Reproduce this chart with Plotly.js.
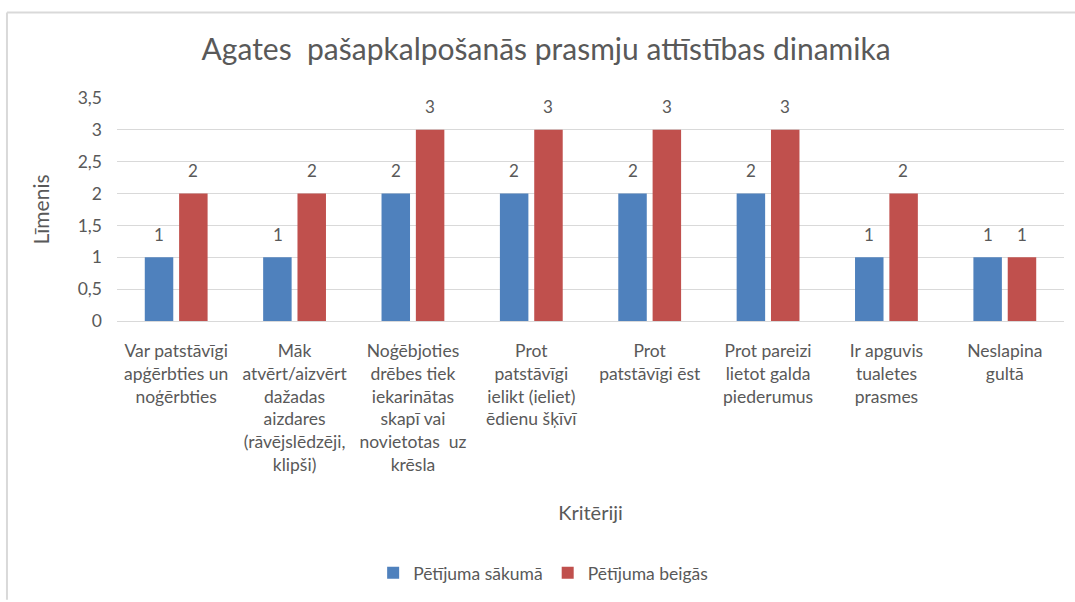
<!DOCTYPE html>
<html>
<head>
<meta charset="utf-8">
<script src="https://cdn.plot.ly/plotly-3.0.1.min.js"></script>
<style>html,body{margin:0;padding:0;background:#fff;}#chart{width:1075px;height:602px;}</style>
</head>
<body>
<div id="chart"></div>
<script>
const categories = [
  "Var patstāvīgi<br>apģērbties un<br>noģērbties",
  "Māk<br>atvērt/aizvērt<br>dažadas<br>aizdares<br>(rāvējslēdzēji,<br>klipši)",
  "Noģēbjoties<br>drēbes tiek<br>iekarinātas<br>skapī vai<br>novietotas  uz<br>krēsla",
  "Prot<br>patstāvīgi<br>ielikt (ieliet)<br>ēdienu šķīvī",
  "Prot<br>patstāvīgi ēst",
  "Prot pareizi<br>lietot galda<br>piederumus",
  "Ir apguvis<br>tualetes<br>prasmes",
  "Neslapina<br>gultā"
];
const seriesNames = ["Pētījuma sākumā", "Pētījuma beigās"];
const startValues = [1, 1, 2, 2, 2, 2, 1, 1];
const endValues   = [2, 2, 3, 3, 3, 3, 2, 1];
const colors = ["#4f81bd", "#c0504d"];
const textColor = "#595959";
const fontFamily = "Lato, 'Open Sans', sans-serif";

const traces = [startValues, endValues].map((vals, i) => ({
  type: "bar",
  name: seriesNames[i],
  x: categories,
  y: vals,
  marker: {color: colors[i]},
  hoverinfo: "none"
}));

const annotations = [];
[startValues, endValues].forEach((vals, i) => {
  vals.forEach((v, j) => {
    annotations.push({
      x: categories[j], y: v, xref: "x", yref: "y",
      text: String(v), showarrow: false,
      xshift: i === 0 ? -17 : 17, yshift: 23,
      yanchor: "middle",
      font: {family: fontFamily, size: 17, color: textColor}
    });
  });
});

const layout = {
  width: 1075, height: 602,
  margin: {l: 117, r: 11, t: 98, b: 277},
  paper_bgcolor: "#fff", plot_bgcolor: "#fff",
  separators: ", ",
  font: {family: fontFamily, color: textColor, size: 17},
  title: {text: "Agates  pašapkalpošanās prasmju attīstības dinamika",
          font: {family: fontFamily, size: 30, color: textColor},
          x: 0.508, xanchor: "center", y: 0.917, yanchor: "middle"},
  barmode: "group",
  bargap: 0.42,
  bargroupgap: 0.17,
  xaxis: {
    type: "category",
    tickfont: {family: fontFamily, size: 17.5, color: textColor},
    ticklabelstandoff: 14,
    ticks: "", showline: true, linecolor: "#d9d9d9", linewidth: 1,
    title: {text: "Kritēriji", font: {family: fontFamily, size: 20, color: textColor}, standoff: 32},
    automargin: false
  },
  yaxis: {
    range: [0, 3.5], dtick: 0.5, tick0: 0,
    gridcolor: "#d9d9d9", gridwidth: 1, zeroline: false,
    showline: false, ticks: "",
    ticklabelstandoff: 14,
    tickfont: {family: fontFamily, size: 17.5, color: textColor},
    title: {text: "Līmenis", font: {family: fontFamily, size: 21, color: textColor}, standoff: 22},
    automargin: false
  },
  legend: {
    orientation: "h", x: 0.45, xanchor: "center", y: -1.13, yanchor: "middle",
    font: {family: fontFamily, size: 17.5, color: textColor}
  },
  annotations: annotations,
  shapes: [
    {type: "line", xref: "paper", yref: "paper", x0: -0.1162, x1: 1.02, y0: 1.383, y1: 1.383,
     line: {color: "#d9d9d9", width: 2}},
    {type: "line", xref: "paper", yref: "paper", x0: -0.1162, x1: -0.1162, y0: 1.383, y1: -1.25,
     line: {color: "#d9d9d9", width: 2}}
  ]
};

Plotly.newPlot("chart", traces, layout, {displayModeBar: false, staticPlot: true});
</script>
</body>
</html>
